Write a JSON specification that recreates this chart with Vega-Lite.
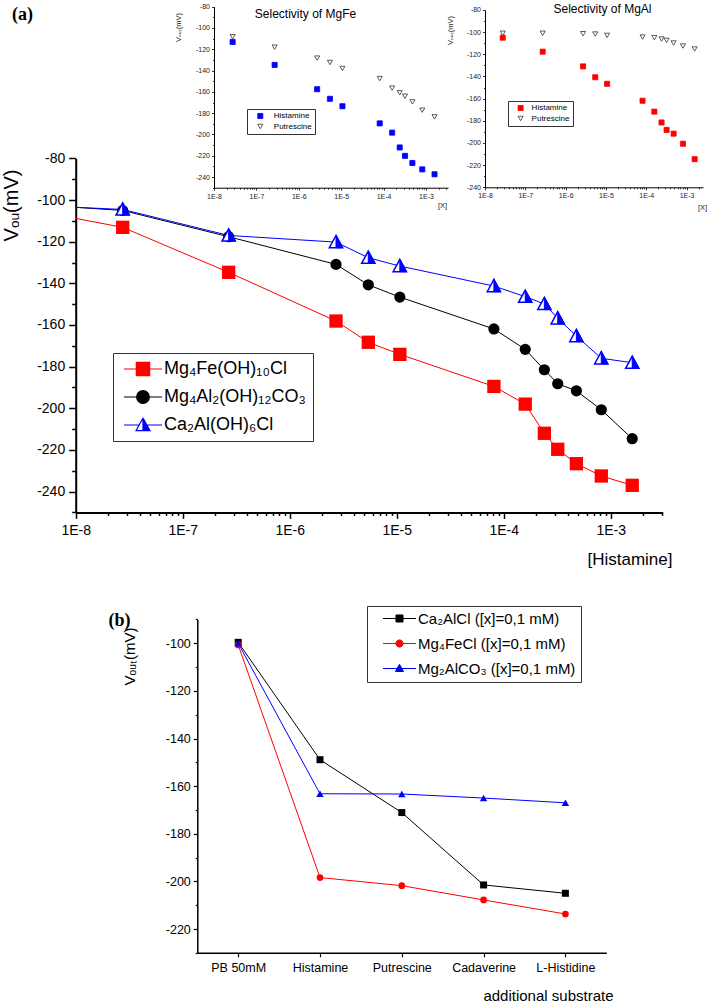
{
  "$schema": "https://vega.github.io/schema/vega-lite/v6.json",
  "background": "white",
  "width": 709,
  "height": 1005,
  "autosize": {"type": "none"},
  "padding": 0,
  "config": {
    "view": {"stroke": null},
    "font": "Liberation Sans",
    "axis": {"labelFont": "Liberation Sans", "titleFont": "Liberation Sans", "domainColor": "black", "tickColor": "black", "labelColor": "black", "titleColor": "black", "titleFontWeight": "normal", "grid": false, "labelOverlap": false, "labelFlush": false},
    "legend": {"labelFont": "Liberation Sans", "labelColor": "black", "labelLimit": 300}
  },
  "resolve": {
    "scale": {"x": "independent", "y": "independent", "color": "independent", "fill": "independent", "stroke": "independent", "shape": "independent"},
    "axis": {"x": "independent", "y": "independent"},
    "legend": {"color": "independent", "fill": "independent", "stroke": "independent", "shape": "independent"}
  },
  "layer": [
    {
      "data": {"values": [
        {"series": "Mg₄Fe(OH)₁₀Cl", "conc": 1e-8, "v": -108.8},
        {"series": "Mg₄Fe(OH)₁₀Cl", "conc": 2.75e-8, "v": -113.1},
        {"series": "Mg₄Fe(OH)₁₀Cl", "conc": 2.69e-7, "v": -134.7},
        {"series": "Mg₄Fe(OH)₁₀Cl", "conc": 2.71e-6, "v": -158.1},
        {"series": "Mg₄Fe(OH)₁₀Cl", "conc": 5.43e-6, "v": -168.3},
        {"series": "Mg₄Fe(OH)₁₀Cl", "conc": 1.07e-5, "v": -174.1},
        {"series": "Mg₄Fe(OH)₁₀Cl", "conc": 8.1e-5, "v": -189.5},
        {"series": "Mg₄Fe(OH)₁₀Cl", "conc": 1.59e-4, "v": -198.0},
        {"series": "Mg₄Fe(OH)₁₀Cl", "conc": 2.4e-4, "v": -212.0},
        {"series": "Mg₄Fe(OH)₁₀Cl", "conc": 3.2e-4, "v": -219.7},
        {"series": "Mg₄Fe(OH)₁₀Cl", "conc": 4.78e-4, "v": -226.6},
        {"series": "Mg₄Fe(OH)₁₀Cl", "conc": 8.17e-4, "v": -232.5},
        {"series": "Mg₄Fe(OH)₁₀Cl", "conc": 1.59e-3, "v": -237.0},
        {"series": "Mg₄Al₂(OH)₁₂CO₃", "conc": 1e-8, "v": -103.5},
        {"series": "Mg₄Al₂(OH)₁₂CO₃", "conc": 2.75e-8, "v": -105.0},
        {"series": "Mg₄Al₂(OH)₁₂CO₃", "conc": 2.69e-7, "v": -117.6},
        {"series": "Mg₄Al₂(OH)₁₂CO₃", "conc": 2.71e-6, "v": -130.9},
        {"series": "Mg₄Al₂(OH)₁₂CO₃", "conc": 5.43e-6, "v": -140.7},
        {"series": "Mg₄Al₂(OH)₁₂CO₃", "conc": 1.07e-5, "v": -146.6},
        {"series": "Mg₄Al₂(OH)₁₂CO₃", "conc": 8.1e-5, "v": -161.9},
        {"series": "Mg₄Al₂(OH)₁₂CO₃", "conc": 1.59e-4, "v": -171.7},
        {"series": "Mg₄Al₂(OH)₁₂CO₃", "conc": 2.4e-4, "v": -181.5},
        {"series": "Mg₄Al₂(OH)₁₂CO₃", "conc": 3.2e-4, "v": -188.2},
        {"series": "Mg₄Al₂(OH)₁₂CO₃", "conc": 4.78e-4, "v": -191.6},
        {"series": "Mg₄Al₂(OH)₁₂CO₃", "conc": 8.17e-4, "v": -200.7},
        {"series": "Mg₄Al₂(OH)₁₂CO₃", "conc": 1.59e-3, "v": -214.6},
        {"series": "Ca₂Al(OH)₆Cl", "conc": 1e-8, "v": -103.5},
        {"series": "Ca₂Al(OH)₆Cl", "conc": 2.75e-8, "v": -104.5},
        {"series": "Ca₂Al(OH)₆Cl", "conc": 2.69e-7, "v": -117.0},
        {"series": "Ca₂Al(OH)₆Cl", "conc": 2.71e-6, "v": -120.2},
        {"series": "Ca₂Al(OH)₆Cl", "conc": 5.43e-6, "v": -127.7},
        {"series": "Ca₂Al(OH)₆Cl", "conc": 1.07e-5, "v": -131.7},
        {"series": "Ca₂Al(OH)₆Cl", "conc": 8.1e-5, "v": -141.3},
        {"series": "Ca₂Al(OH)₆Cl", "conc": 1.59e-4, "v": -146.4},
        {"series": "Ca₂Al(OH)₆Cl", "conc": 2.4e-4, "v": -149.9},
        {"series": "Ca₂Al(OH)₆Cl", "conc": 3.2e-4, "v": -156.8},
        {"series": "Ca₂Al(OH)₆Cl", "conc": 4.78e-4, "v": -165.3},
        {"series": "Ca₂Al(OH)₆Cl", "conc": 8.17e-4, "v": -176.0},
        {"series": "Ca₂Al(OH)₆Cl", "conc": 1.59e-3, "v": -178.1}
      ]},
      "encoding": {
        "x": {"field": "conc", "type": "quantitative", "scale": {"type": "log", "domain": [1.962e-9, 8.295e-3], "nice": false},
          "axis": {"orient": "bottom", "offset": -492.6, "domainDash": [587, 2000], "domainDashOffset": 2511.3,
            "values": [1e-8,2e-8,3e-8,4e-8,5e-8,6e-8,7e-8,8e-8,9e-8,1e-7,2e-7,3e-7,4e-7,5e-7,6e-7,7e-7,8e-7,9e-7,1e-6,2e-6,3e-6,4e-6,5e-6,6e-6,7e-6,8e-6,9e-6,1e-5,2e-5,3e-5,4e-5,5e-5,6e-5,7e-5,8e-5,9e-5,1e-4,2e-4,3e-4,4e-4,5e-4,6e-4,7e-4,8e-4,9e-4,1e-3,2e-3,3e-3],
            "labelExpr": "abs(log(datum.value)/LN10 - round(log(datum.value)/LN10)) < 0.01 ? '1E' + round(log(datum.value)/LN10) : ''",
            "tickSize": {"condition": {"test": "abs(log(datum.value)/LN10 - round(log(datum.value)/LN10)) < 0.01", "value": 6}, "value": 3},
            "labelFontSize": 14, "labelPadding": 5, "domainWidth": 2, "tickWidth": 1.5,
            "title": "[Histamine]", "titleFontSize": 17, "titleX": 672, "titleY": 47, "titleAlign": "right", "titleBaseline": "middle"}},
        "y": {"field": "v", "type": "quantitative", "scale": {"domain": [-486.55, -3.93], "nice": false, "zero": false},
          "axis": {"orient": "left", "offset": -75.7, "domainDash": [354, 2000], "domainDashOffset": 1861.4,
            "values": [-250,-240,-230,-220,-210,-200,-190,-180,-170,-160,-150,-140,-130,-120,-110,-100,-90,-80],
            "labelExpr": "datum.value % 20 === 0 ? '' + datum.value : ''",
            "tickSize": {"condition": {"test": "datum.value % 20 === 0", "value": 7}, "value": 4},
            "labelFontSize": 14, "labelPadding": 4, "domainWidth": 2, "tickWidth": 1.5,
            "title": "Vₒᵤ(mV)", "titleFontSize": 20, "titleAngle": 270, "titleX": -64, "titleY": 205, "titleAlign": "center", "titleBaseline": "middle"}}
      },
      "layer": [
        {"mark": {"type": "line", "strokeWidth": 1},
         "encoding": {"color": {"field": "series", "type": "nominal", "scale": {"domain": ["Mg₄Fe(OH)₁₀Cl", "Mg₄Al₂(OH)₁₂CO₃", "Ca₂Al(OH)₆Cl"], "range": ["#FF0000", "#000000", "#0000FF"]}, "legend": null}}},
        {"transform": [{"filter": {"and": [{"field": "series", "equal": "Mg₄Fe(OH)₁₀Cl"}, {"field": "conc", "gt": 1.5e-8}]}}],
         "mark": {"type": "point", "shape": "square", "filled": true, "color": "#FF0000", "size": 177, "opacity": 1}},
        {"transform": [{"filter": {"and": [{"field": "series", "equal": "Mg₄Al₂(OH)₁₂CO₃"}, {"field": "conc", "gt": 1.5e-8}]}}],
         "mark": {"type": "point", "shape": "circle", "filled": true, "color": "#000000", "size": 125, "opacity": 1}},
        {"transform": [{"filter": {"and": [{"field": "series", "equal": "Ca₂Al(OH)₆Cl"}, {"field": "conc", "gt": 1.5e-8}]}}],
         "mark": {"type": "point", "shape": "M0,-0.95L0.95,0.8L-0.95,0.8Z", "filled": true, "fill": "#FFFFFF", "stroke": "#0000FF", "strokeWidth": 1.5, "size": 196, "opacity": 1}},
        {"transform": [{"filter": {"and": [{"field": "series", "equal": "Ca₂Al(OH)₆Cl"}, {"field": "conc", "gt": 1.5e-8}]}}],
         "mark": {"type": "point", "shape": "M0,-0.95L0.95,0.8L0,0.8Z", "filled": true, "fill": "#0000FF", "stroke": "#0000FF", "strokeWidth": 1, "size": 196, "opacity": 1}}
      ]
    },
    {
      "data": {"values": []},
      "mark": {"type": "point", "filled": true, "opacity": 1, "size": 177, "strokeWidth": 1.2},
      "encoding": {
        "x": {"field": "hx", "type": "quantitative", "scale": {"domain": [0, 1]}, "axis": null},
        "y": {"field": "hy", "type": "quantitative", "scale": {"domain": [0, 1]}, "axis": null},
        "fill": {"field": "series", "type": "nominal", "scale": {"domain": ["Mg₄Fe(OH)₁₀Cl", "Mg₄Al₂(OH)₁₂CO₃", "Ca₂Al(OH)₆Cl"], "range": ["#FF0000", "#000000", "#0000FF"]},
          "legend": {"title": null, "orient": "none", "legendX": 113, "legendY": 353, "strokeColor": "#333333", "fillColor": "white", "padding": 7, "labelFontSize": 18, "symbolSize": 177, "symbolOffset": 14, "labelOffset": 12, "rowPadding": 9, "symbolStrokeWidth": 1.2}},
        "stroke": {"field": "series", "type": "nominal", "scale": {"domain": ["Mg₄Fe(OH)₁₀Cl", "Mg₄Al₂(OH)₁₂CO₃", "Ca₂Al(OH)₆Cl"], "range": ["#FF0000", "#000000", "#0000FF"]},
          "legend": {"title": null, "orient": "none", "legendX": 113, "legendY": 353, "strokeColor": "#333333", "fillColor": "white", "padding": 7, "labelFontSize": 18, "symbolSize": 177, "symbolOffset": 14, "labelOffset": 12, "rowPadding": 9, "symbolStrokeWidth": 1.2}},
        "shape": {"field": "series", "type": "nominal", "scale": {"domain": ["Mg₄Fe(OH)₁₀Cl", "Mg₄Al₂(OH)₁₂CO₃", "Ca₂Al(OH)₆Cl"], "range": [
            "M-2.86,0H2.86M-1,-1H1V1H-1Z",
            "M-2.86,0H2.86M0.95,0C0.95,0.525,0.525,0.95,0,0.95C-0.525,0.95,-0.95,0.525,-0.95,0C-0.95,-0.525,-0.525,-0.95,0,-0.95C0.525,-0.95,0.95,-0.525,0.95,0Z",
            "M-2.86,0H-0.58M0.58,0H2.86M0,-1.05L-1.05,0.85L0,0.85ZM0,-1.05L0,0.85L-1.05,0.85ZM0,-1.05L1.05,0.85L0,0.85Z"]},
          "legend": {"title": null, "orient": "none", "legendX": 113, "legendY": 353, "strokeColor": "#333333", "fillColor": "white", "padding": 7, "labelFontSize": 18, "symbolSize": 177, "symbolOffset": 14, "labelOffset": 12, "rowPadding": 9, "symbolStrokeWidth": 1.2}}
      }
    },
    {
      "data": {"values": [
        {"analyte": "Histamine", "conc": 2.75e-8, "v": -113.1},
        {"analyte": "Histamine", "conc": 2.69e-7, "v": -134.7},
        {"analyte": "Histamine", "conc": 2.71e-6, "v": -157.5},
        {"analyte": "Histamine", "conc": 5.43e-6, "v": -166.5},
        {"analyte": "Histamine", "conc": 1.07e-5, "v": -173.5},
        {"analyte": "Histamine", "conc": 8.1e-5, "v": -189.6},
        {"analyte": "Histamine", "conc": 1.59e-4, "v": -198.3},
        {"analyte": "Histamine", "conc": 2.4e-4, "v": -212.2},
        {"analyte": "Histamine", "conc": 3.2e-4, "v": -220.1},
        {"analyte": "Histamine", "conc": 4.78e-4, "v": -226.8},
        {"analyte": "Histamine", "conc": 8.17e-4, "v": -232.8},
        {"analyte": "Histamine", "conc": 1.59e-3, "v": -237.4},
        {"analyte": "Putrescine", "conc": 2.75e-8, "v": -108.2},
        {"analyte": "Putrescine", "conc": 2.69e-7, "v": -118.0},
        {"analyte": "Putrescine", "conc": 2.71e-6, "v": -128.3},
        {"analyte": "Putrescine", "conc": 5.43e-6, "v": -132.4},
        {"analyte": "Putrescine", "conc": 1.07e-5, "v": -138.0},
        {"analyte": "Putrescine", "conc": 8.1e-5, "v": -147.5},
        {"analyte": "Putrescine", "conc": 1.59e-4, "v": -156.5},
        {"analyte": "Putrescine", "conc": 2.4e-4, "v": -160.9},
        {"analyte": "Putrescine", "conc": 3.2e-4, "v": -164.1},
        {"analyte": "Putrescine", "conc": 4.78e-4, "v": -169.4},
        {"analyte": "Putrescine", "conc": 8.17e-4, "v": -177.2},
        {"analyte": "Putrescine", "conc": 1.59e-3, "v": -183.5}
      ]},
      "mark": {"type": "point", "filled": true, "opacity": 1, "size": 26, "strokeWidth": 0.8},
      "encoding": {
        "x": {"field": "conc", "type": "quantitative", "scale": {"type": "log", "domain": [8.97e-14, 4731], "nice": false},
          "axis": {"orient": "bottom", "offset": -817.3, "domainDash": [234, 2000], "domainDashOffset": 2020,
            "values": [1e-8,2e-8,3e-8,4e-8,5e-8,6e-8,7e-8,8e-8,9e-8,1e-7,2e-7,3e-7,4e-7,5e-7,6e-7,7e-7,8e-7,9e-7,1e-6,2e-6,3e-6,4e-6,5e-6,6e-6,7e-6,8e-6,9e-6,1e-5,2e-5,3e-5,4e-5,5e-5,6e-5,7e-5,8e-5,9e-5,1e-4,2e-4,3e-4,4e-4,5e-4,6e-4,7e-4,8e-4,9e-4,1e-3,2e-3,3e-3],
            "labelExpr": "abs(log(datum.value)/LN10 - round(log(datum.value)/LN10)) < 0.01 ? '1E' + round(log(datum.value)/LN10) : ''",
            "tickSize": {"condition": {"test": "abs(log(datum.value)/LN10 - round(log(datum.value)/LN10)) < 0.01", "value": 2.5}, "value": 1.5},
            "labelFontSize": 7, "labelPadding": 2, "labelColor": "#222222", "domainWidth": 1, "tickWidth": 0.8,
            "title": "[X]", "titleFontSize": 7.5, "titleColor": "#222222", "titleX": 442, "titleY": 18, "titleAlign": "center", "titleBaseline": "middle"}},
        "y": {"field": "v", "type": "quantitative", "scale": {"domain": [-1017.63, -73.71], "nice": false, "zero": false},
          "axis": {"orient": "left", "offset": -214, "domainDash": [181, 2000], "domainDashOffset": 1363.7,
            "values": [-250,-240,-230,-220,-210,-200,-190,-180,-170,-160,-150,-140,-130,-120,-110,-100,-90,-80],
            "labelExpr": "datum.value % 20 === 0 ? '' + datum.value : ''",
            "tickSize": {"condition": {"test": "datum.value % 20 === 0", "value": 2.5}, "value": 1.5},
            "labelFontSize": 7, "labelPadding": 2, "labelColor": "#222222", "domainWidth": 1, "tickWidth": 0.8,
            "title": "Vₒᵤₜ(mV)", "titleFontSize": 7.5, "titleColor": "#222222", "titleAngle": 270, "titleX": -36, "titleY": 27, "titleAlign": "center", "titleBaseline": "middle"}},
        "fill": {"field": "analyte", "type": "nominal", "scale": {"domain": ["Histamine", "Putrescine"], "range": ["#0000FF", "#FFFFFF"]},
          "legend": {"title": null, "orient": "none", "legendX": 247, "legendY": 109, "strokeColor": "#333333", "fillColor": "white", "padding": 3, "labelFontSize": 8, "symbolOffset": 6.3, "labelOffset": 9.5, "rowPadding": 1.5, "symbolSize": 26, "symbolStrokeWidth": 0.8}},
        "stroke": {"field": "analyte", "type": "nominal", "scale": {"domain": ["Histamine", "Putrescine"], "range": ["#0000FF", "#333333"]},
          "legend": {"title": null, "orient": "none", "legendX": 247, "legendY": 109, "strokeColor": "#333333", "fillColor": "white", "padding": 3, "labelFontSize": 8, "symbolOffset": 6.3, "labelOffset": 9.5, "rowPadding": 1.5, "symbolSize": 26, "symbolStrokeWidth": 0.8}},
        "shape": {"field": "analyte", "type": "nominal", "scale": {"domain": ["Histamine", "Putrescine"], "range": ["square", "triangle-down"]},
          "legend": {"title": null, "orient": "none", "legendX": 247, "legendY": 109, "strokeColor": "#333333", "fillColor": "white", "padding": 3, "labelFontSize": 8, "symbolOffset": 6.3, "labelOffset": 9.5, "rowPadding": 1.5, "symbolSize": 26, "symbolStrokeWidth": 0.8}}
      }
    },
    {
      "data": {"values": [
        {"analyte": "Histamine", "conc": 2.75e-8, "v": -105.0},
        {"analyte": "Histamine", "conc": 2.69e-7, "v": -117.6},
        {"analyte": "Histamine", "conc": 2.71e-6, "v": -130.9},
        {"analyte": "Histamine", "conc": 5.43e-6, "v": -140.7},
        {"analyte": "Histamine", "conc": 1.07e-5, "v": -146.6},
        {"analyte": "Histamine", "conc": 8.1e-5, "v": -161.9},
        {"analyte": "Histamine", "conc": 1.59e-4, "v": -171.7},
        {"analyte": "Histamine", "conc": 2.4e-4, "v": -181.5},
        {"analyte": "Histamine", "conc": 3.2e-4, "v": -188.2},
        {"analyte": "Histamine", "conc": 4.78e-4, "v": -191.6},
        {"analyte": "Histamine", "conc": 8.17e-4, "v": -200.7},
        {"analyte": "Histamine", "conc": 1.59e-3, "v": -214.6},
        {"analyte": "Putrescine", "conc": 2.75e-8, "v": -101.0},
        {"analyte": "Putrescine", "conc": 2.69e-7, "v": -101.0},
        {"analyte": "Putrescine", "conc": 2.71e-6, "v": -101.4},
        {"analyte": "Putrescine", "conc": 5.43e-6, "v": -101.7},
        {"analyte": "Putrescine", "conc": 1.07e-5, "v": -102.9},
        {"analyte": "Putrescine", "conc": 8.1e-5, "v": -104.4},
        {"analyte": "Putrescine", "conc": 1.59e-4, "v": -105.0},
        {"analyte": "Putrescine", "conc": 2.4e-4, "v": -106.2},
        {"analyte": "Putrescine", "conc": 3.2e-4, "v": -107.4},
        {"analyte": "Putrescine", "conc": 4.78e-4, "v": -109.8},
        {"analyte": "Putrescine", "conc": 8.17e-4, "v": -112.5},
        {"analyte": "Putrescine", "conc": 1.59e-3, "v": -115.2}
      ]},
      "mark": {"type": "point", "filled": true, "opacity": 1, "size": 26, "strokeWidth": 0.8},
      "encoding": {
        "x": {"field": "conc", "type": "quantitative", "scale": {"type": "log", "domain": [9.23e-21, 3.61e-3], "nice": false},
          "axis": {"orient": "bottom", "offset": -817.7, "domainDash": [218, 2000], "domainDashOffset": 1733,
            "values": [1e-8,2e-8,3e-8,4e-8,5e-8,6e-8,7e-8,8e-8,9e-8,1e-7,2e-7,3e-7,4e-7,5e-7,6e-7,7e-7,8e-7,9e-7,1e-6,2e-6,3e-6,4e-6,5e-6,6e-6,7e-6,8e-6,9e-6,1e-5,2e-5,3e-5,4e-5,5e-5,6e-5,7e-5,8e-5,9e-5,1e-4,2e-4,3e-4,4e-4,5e-4,6e-4,7e-4,8e-4,9e-4,1e-3,2e-3],
            "labelExpr": "abs(log(datum.value)/LN10 - round(log(datum.value)/LN10)) < 0.01 ? '1E' + round(log(datum.value)/LN10) : ''",
            "tickSize": {"condition": {"test": "abs(log(datum.value)/LN10 - round(log(datum.value)/LN10)) < 0.01", "value": 2.5}, "value": 1.5},
            "labelFontSize": 7, "labelPadding": 2, "labelColor": "#222222", "domainWidth": 1, "tickWidth": 0.8,
            "title": "[X]", "titleFontSize": 7.5, "titleColor": "#222222", "titleX": 702, "titleY": 20, "titleAlign": "center", "titleBaseline": "middle"}},
        "y": {"field": "v", "type": "quantitative", "scale": {"domain": [-977.93, -70.98], "nice": false, "zero": false},
          "axis": {"orient": "left", "offset": -485, "domainDash": [177.3, 2000], "domainDashOffset": 1359.6,
            "values": [-240,-230,-220,-210,-200,-190,-180,-170,-160,-150,-140,-130,-120,-110,-100,-90,-80],
            "labelExpr": "datum.value % 20 === 0 ? '' + datum.value : ''",
            "tickSize": {"condition": {"test": "datum.value % 20 === 0", "value": 2.5}, "value": 1.5},
            "labelFontSize": 7, "labelPadding": 2, "labelColor": "#222222", "domainWidth": 1, "tickWidth": 0.8,
            "title": "Vₒᵤₜ(mV)", "titleFontSize": 7.5, "titleColor": "#222222", "titleAngle": 270, "titleX": -35, "titleY": 30, "titleAlign": "center", "titleBaseline": "middle"}},
        "fill": {"field": "analyte", "type": "nominal", "scale": {"domain": ["Histamine", "Putrescine"], "range": ["#FF0000", "#FFFFFF"]},
          "legend": {"title": null, "orient": "none", "legendX": 508, "legendY": 101, "strokeColor": "#333333", "fillColor": "white", "padding": 3, "labelFontSize": 8, "symbolOffset": 5.6, "labelOffset": 7, "rowPadding": 1.5, "symbolSize": 26, "symbolStrokeWidth": 0.8}},
        "stroke": {"field": "analyte", "type": "nominal", "scale": {"domain": ["Histamine", "Putrescine"], "range": ["#FF0000", "#333333"]},
          "legend": {"title": null, "orient": "none", "legendX": 508, "legendY": 101, "strokeColor": "#333333", "fillColor": "white", "padding": 3, "labelFontSize": 8, "symbolOffset": 5.6, "labelOffset": 7, "rowPadding": 1.5, "symbolSize": 26, "symbolStrokeWidth": 0.8}},
        "shape": {"field": "analyte", "type": "nominal", "scale": {"domain": ["Histamine", "Putrescine"], "range": ["square", "triangle-down"]},
          "legend": {"title": null, "orient": "none", "legendX": 508, "legendY": 101, "strokeColor": "#333333", "fillColor": "white", "padding": 3, "labelFontSize": 8, "symbolOffset": 5.6, "labelOffset": 7, "rowPadding": 1.5, "symbolSize": 26, "symbolStrokeWidth": 0.8}}
      }
    },
    {
      "data": {"values": [
        {"series": "Ca₂AlCl ([x]=0,1 mM)", "substrate": "PB 50mM", "v": -99.6},
        {"series": "Ca₂AlCl ([x]=0,1 mM)", "substrate": "Histamine", "v": -148.9},
        {"series": "Ca₂AlCl ([x]=0,1 mM)", "substrate": "Putrescine", "v": -171.1},
        {"series": "Ca₂AlCl ([x]=0,1 mM)", "substrate": "Cadaverine", "v": -201.5},
        {"series": "Ca₂AlCl ([x]=0,1 mM)", "substrate": "L-Histidine", "v": -205.0},
        {"series": "Mg₄FeCl ([x]=0,1 mM)", "substrate": "PB 50mM", "v": -100.7},
        {"series": "Mg₄FeCl ([x]=0,1 mM)", "substrate": "Histamine", "v": -198.4},
        {"series": "Mg₄FeCl ([x]=0,1 mM)", "substrate": "Putrescine", "v": -201.8},
        {"series": "Mg₄FeCl ([x]=0,1 mM)", "substrate": "Cadaverine", "v": -207.8},
        {"series": "Mg₄FeCl ([x]=0,1 mM)", "substrate": "L-Histidine", "v": -213.7},
        {"series": "Mg₂AlCO₃ ([x]=0,1 mM)", "substrate": "PB 50mM", "v": -100.0},
        {"series": "Mg₂AlCO₃ ([x]=0,1 mM)", "substrate": "Histamine", "v": -163.2},
        {"series": "Mg₂AlCO₃ ([x]=0,1 mM)", "substrate": "Putrescine", "v": -163.3},
        {"series": "Mg₂AlCO₃ ([x]=0,1 mM)", "substrate": "Cadaverine", "v": -165.0},
        {"series": "Mg₂AlCO₃ ([x]=0,1 mM)", "substrate": "L-Histidine", "v": -167.0}
      ]},
      "encoding": {
        "x": {"field": "substrate", "type": "nominal", "sort": ["PB 50mM", "Histamine", "Putrescine", "Cadaverine", "L-Histidine"],
          "scale": {"type": "point", "padding": 0.5, "range": [197.3, 606.3]},
          "axis": {"orient": "bottom", "offset": -52.2,
            "labelAngle": 0, "labelFontSize": 12.5, "labelPadding": 5, "tickSize": 4, "tickWidth": 1.2, "domainWidth": 1.5,
            "title": "additional  substrate", "titleFontSize": 15, "titleX": 613, "titleY": 43, "titleAlign": "right", "titleBaseline": "middle"}},
        "y": {"field": "v", "type": "quantitative", "scale": {"domain": [-251.92, 170.18], "nice": false, "zero": false},
          "axis": {"orient": "left", "offset": -197.3, "domainDash": [333.3, 2000], "domainDashOffset": 2281.1,
            "values": [-230,-220,-210,-200,-190,-180,-170,-160,-150,-140,-130,-120,-110,-100,-90],
            "labelExpr": "datum.value % 20 === 0 ? '' + datum.value : ''",
            "tickSize": {"condition": {"test": "datum.value % 20 === 0", "value": 4}, "value": 2},
            "labelFontSize": 12.5, "labelPadding": 3, "domainWidth": 1.5, "tickWidth": 1.2,
            "title": "Vₒᵤₜ(mV)", "titleFontSize": 15, "titleAngle": 270, "titleX": -68, "titleY": 656, "titleAlign": "center", "titleBaseline": "middle"}}
      },
      "layer": [
        {"mark": {"type": "line", "strokeWidth": 1},
         "encoding": {"color": {"field": "series", "type": "nominal", "scale": {"domain": ["Ca₂AlCl ([x]=0,1 mM)", "Mg₄FeCl ([x]=0,1 mM)", "Mg₂AlCO₃ ([x]=0,1 mM)"], "range": ["#000000", "#FF0000", "#0000FF"]}, "legend": null}}},
        {"transform": [{"filter": {"field": "series", "equal": "Ca₂AlCl ([x]=0,1 mM)"}}],
         "mark": {"type": "point", "shape": "square", "filled": true, "color": "#000000", "size": 49, "opacity": 1}},
        {"transform": [{"filter": {"field": "series", "equal": "Mg₄FeCl ([x]=0,1 mM)"}}],
         "mark": {"type": "point", "shape": "circle", "filled": true, "color": "#FF0000", "size": 45, "opacity": 1}},
        {"transform": [{"filter": {"field": "series", "equal": "Mg₂AlCO₃ ([x]=0,1 mM)"}}],
         "mark": {"type": "point", "shape": "triangle-up", "filled": true, "color": "#0000FF", "size": 55, "opacity": 1}}
      ]
    },
    {
      "data": {"values": []},
      "mark": {"type": "point", "filled": true, "opacity": 1, "size": 36, "strokeWidth": 1},
      "encoding": {
        "x": {"field": "hx", "type": "quantitative", "scale": {"domain": [0, 1]}, "axis": null},
        "y": {"field": "hy", "type": "quantitative", "scale": {"domain": [0, 1]}, "axis": null},
        "fill": {"field": "series", "type": "nominal", "scale": {"domain": ["Ca₂AlCl ([x]=0,1 mM)", "Mg₄FeCl ([x]=0,1 mM)", "Mg₂AlCO₃ ([x]=0,1 mM)"], "range": ["#000000", "#FF0000", "#0000FF"]},
          "legend": {"title": null, "orient": "none", "legendX": 367, "legendY": 606, "strokeColor": "#333333", "fillColor": "white", "padding": 5, "labelFontSize": 15, "symbolSize": 36, "symbolOffset": 20, "labelOffset": 11, "rowPadding": 9, "symbolStrokeWidth": 1}},
        "stroke": {"field": "series", "type": "nominal", "scale": {"domain": ["Ca₂AlCl ([x]=0,1 mM)", "Mg₄FeCl ([x]=0,1 mM)", "Mg₂AlCO₃ ([x]=0,1 mM)"], "range": ["#000000", "#FF0000", "#0000FF"]},
          "legend": {"title": null, "orient": "none", "legendX": 367, "legendY": 606, "strokeColor": "#333333", "fillColor": "white", "padding": 5, "labelFontSize": 15, "symbolSize": 36, "symbolOffset": 20, "labelOffset": 11, "rowPadding": 9, "symbolStrokeWidth": 1}},
        "shape": {"field": "series", "type": "nominal", "scale": {"domain": ["Ca₂AlCl ([x]=0,1 mM)", "Mg₄FeCl ([x]=0,1 mM)", "Mg₂AlCO₃ ([x]=0,1 mM)"], "range": [
            "M-5.5,0H5.5M-1.17,-1.17H1.17V1.17H-1.17Z",
            "M-5.5,0H5.5M1.2,0C1.2,0.663,0.663,1.2,0,1.2C-0.663,1.2,-1.2,0.663,-1.2,0C-1.2,-0.663,-0.663,-1.2,0,-1.2C0.663,-1.2,1.2,-0.663,1.2,0Z",
            "M-5.5,0H5.5M0,-1.4L1.35,1L-1.35,1Z"]},
          "legend": {"title": null, "orient": "none", "legendX": 367, "legendY": 606, "strokeColor": "#333333", "fillColor": "white", "padding": 5, "labelFontSize": 15, "symbolSize": 36, "symbolOffset": 20, "labelOffset": 11, "rowPadding": 9, "symbolStrokeWidth": 1}}
      }
    },
    {
      "data": {"values": []},
      "mark": "point",
      "encoding": {
        "x": {"field": "hx", "type": "quantitative", "scale": {"domain": [0, 1]},
          "axis": {"orient": "top", "domain": false, "ticks": false, "labels": false, "title": "Selectivity of MgFe", "titleFontSize": 12, "titleX": 305, "titleY": 13, "titleAlign": "center", "titleBaseline": "middle", "titleAngle": 0}},
        "y": {"field": "hy", "type": "quantitative", "scale": {"domain": [0, 1]},
          "axis": {"orient": "left", "domain": false, "ticks": false, "labels": false, "title": "Selectivity of MgAl", "titleFontSize": 12, "titleX": 602, "titleY": 8, "titleAlign": "center", "titleBaseline": "middle", "titleAngle": 0}}
      }
    },
    {
      "data": {"values": []},
      "mark": "point",
      "encoding": {
        "x": {"field": "hx", "type": "quantitative", "scale": {"domain": [0, 1]},
          "axis": {"orient": "top", "domain": false, "ticks": false, "labels": false, "title": "(a)", "titleFont": "Liberation Serif", "titleFontWeight": "bold", "titleFontSize": 18, "titleX": 22, "titleY": 14, "titleAlign": "center", "titleBaseline": "middle", "titleAngle": 0}},
        "y": {"field": "hy", "type": "quantitative", "scale": {"domain": [0, 1]},
          "axis": {"orient": "left", "domain": false, "ticks": false, "labels": false, "title": "(b)", "titleFont": "Liberation Serif", "titleFontWeight": "bold", "titleFontSize": 18, "titleX": 119, "titleY": 620, "titleAlign": "center", "titleBaseline": "middle", "titleAngle": 0}}
      }
    }
  ]
}
